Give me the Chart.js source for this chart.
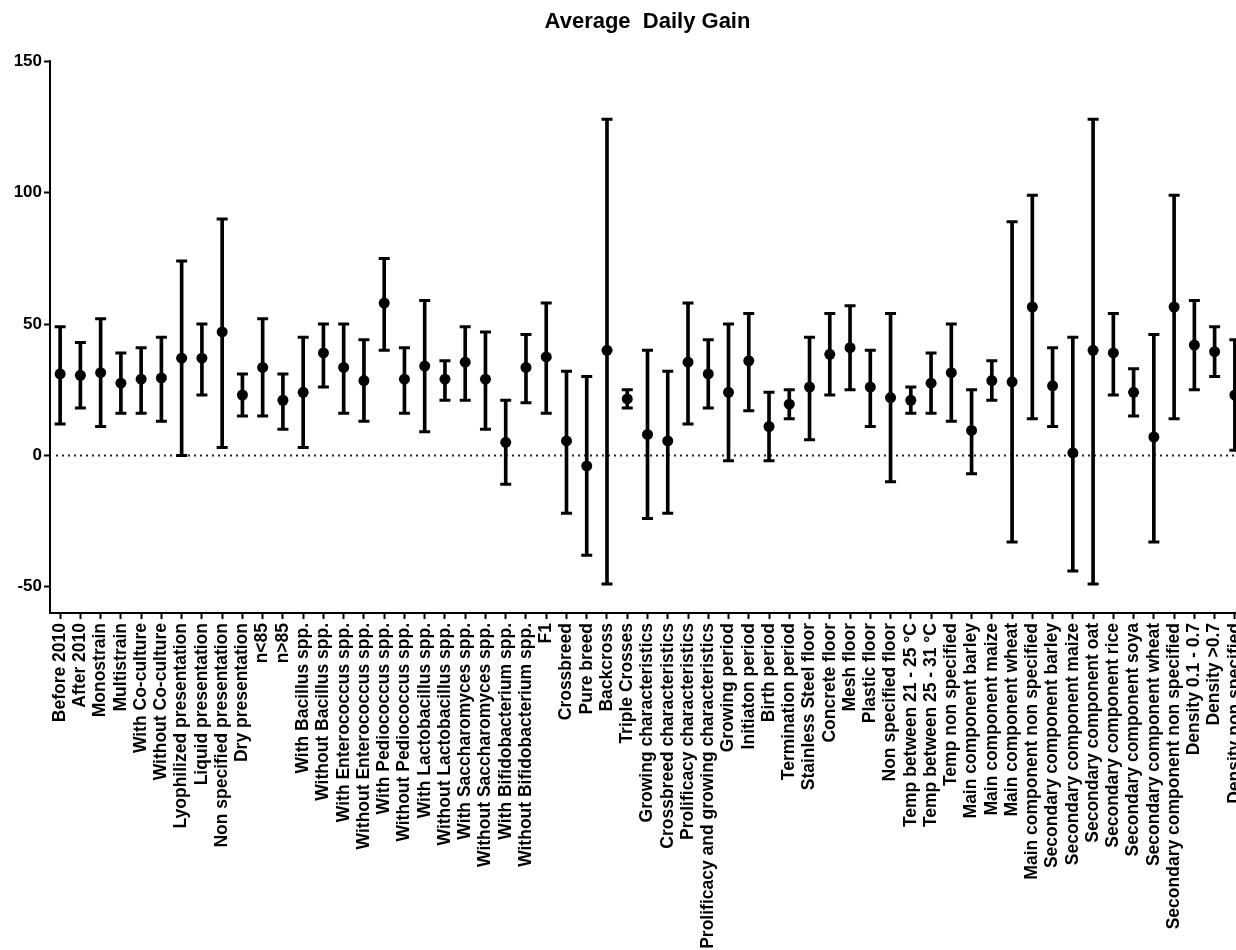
<!DOCTYPE html>
<html>
<head>
<meta charset="utf-8">
<script src="https://cdn.jsdelivr.net/npm/chart.js@4.4.0/dist/chart.umd.min.js"></script>
<style>
  html, body { margin: 0; padding: 0; background: #fff; overflow: hidden; }
  #wrap { width: 1236px; height: 950px; overflow: hidden; }
</style>
</head>
<body>
<div id="wrap"><canvas id="adg" width="1260" height="950"></canvas></div>
<script>
// Average Daily Gain – gemiddelde met betrouwbaarheidsinterval per subgroep

const categories = [
  "Before 2010", "After 2010", "Monostrain", "Multistrain", "With Co-culture",
  "Without Co-culture", "Lyophilized presentation", "Liquid presentation",
  "Non specified presentation", "Dry presentation", "n<85", "n>85",
  "With Bacillus spp.", "Without Bacillus spp.", "With Enterococcus spp.",
  "Without Enterococcus spp.", "With Pediococcus spp.", "Without Pediococcus spp.",
  "With Lactobacillus spp.", "Without Lactobacillus spp.", "With Saccharomyces spp.",
  "Without Saccharomyces spp.", "With Bifidobacterium spp.", "Without Bifidobacterium spp.",
  "F1", "Crossbreed", "Pure breed", "Backcross", "Triple Crosses",
  "Growing characteristics", "Crossbreed characteristics", "Prolificacy characteristics",
  "Prolificacy and growing characteristics", "Growing period", "Initiaton period",
  "Birth period", "Termination period", "Stainless Steel floor", "Concrete floor",
  "Mesh floor", "Plastic floor", "Non specified floor", "Temp between 21 - 25 °C",
  "Temp between 25 - 31 °C", "Temp non specified", "Main component barley",
  "Main component maize", "Main component wheat", "Main component non specified",
  "Secondary component barley", "Secondary component maize", "Secondary component oat",
  "Secondary component rice", "Secondary component soya", "Secondary component wheat",
  "Secondary component non specified", "Density 0.1 - 0.7", "Density >0.7",
  "Density non specified"
];

const means = [
  31, 30.5, 31.5, 27.5, 29, 29.5, 37, 37, 47, 23, 33.5, 21,
  24, 39, 33.5, 28.5, 58, 29, 34, 29, 35.5, 29, 5, 33.5,
  37.5, 5.5, -4, 40, 21.5, 8, 5.5, 35.5, 31, 24, 36, 11, 19.5,
  26, 38.5, 41, 26, 22, 21, 27.5, 31.5, 9.5, 28.5, 28, 56.5,
  26.5, 1, 40, 39, 24, 7, 56.5, 42, 39.5, 23
];

const lows = [
  12, 18, 11, 16, 16, 13, 0, 23, 3, 15, 15, 10,
  3, 26, 16, 13, 40, 16, 9, 21, 21, 10, -11, 20,
  16, -22, -38, -49, 18, -24, -22, 12, 18, -2, 17, -2, 14,
  6, 23, 25, 11, -10, 16, 16, 13, -7, 21, -33, 14,
  11, -44, -49, 23, 15, -33, 14, 25, 30, 2
];

const highs = [
  49, 43, 52, 39, 41, 45, 74, 50, 90, 31, 52, 31,
  45, 50, 50, 44, 75, 41, 59, 36, 49, 47, 21, 46,
  58, 32, 30, 128, 25, 40, 32, 58, 44, 50, 54, 24, 25,
  45, 54, 57, 40, 54, 26, 39, 50, 25, 36, 89, 99,
  41, 45, 128, 54, 33, 46, 99, 59, 49, 44
];

const yTicks = [-50, 0, 50, 100, 150];

const fontFam = "'Liberation Sans', Arial, Helvetica, sans-serif";

// gestippelde nullijn
const zeroLine = {
  id: "zeroLine",
  beforeDatasetsDraw(chart) {
    const { ctx, chartArea, scales } = chart;
    const y = scales.y.getPixelForValue(0);
    ctx.save();
    ctx.strokeStyle = "#222";
    ctx.lineWidth = 2;
    ctx.setLineDash([2, 4]);
    ctx.beginPath();
    ctx.moveTo(chartArea.left + 6, y);
    ctx.lineTo(chartArea.right, y);
    ctx.stroke();
    ctx.restore();
  }
};

const ctx = document.getElementById("adg").getContext("2d");

new Chart(ctx, {
  data: {
    labels: categories,
    datasets: [
      {
        type: "line",
        label: "Mean",
        data: means,
        showLine: false,
        pointRadius: 5.5,
        pointBackgroundColor: "#000",
        pointBorderColor: "#000",
        pointBorderWidth: 0
      },
      {
        type: "line",
        label: "Upper",
        data: highs,
        showLine: false,
        pointStyle: "line",
        pointRadius: 5.5,
        pointBorderWidth: 3,
        pointBorderColor: "#000"
      },
      {
        type: "line",
        label: "Lower",
        data: lows,
        showLine: false,
        pointStyle: "line",
        pointRadius: 5.5,
        pointBorderWidth: 3,
        pointBorderColor: "#000"
      },
      {
        type: "bar",
        label: "CI",
        data: lows.map((lo, i) => [lo, highs[i]]),
        backgroundColor: "#000",
        barThickness: 3,
        borderSkipped: false
      }
    ]
  },
  options: {
    responsive: false,
    animation: false,
    layout: { padding: { left: 0, right: 12, top: 0, bottom: 0 } },
    plugins: {
      legend: { display: false },
      tooltip: { enabled: false },
      title: {
        display: true,
        fullSize: false,
        text: "Average  Daily Gain",
        color: "#000",
        font: { family: fontFam, size: 22, weight: "bold" },
        padding: { top: 9, bottom: 26 }
      }
    },
    scales: {
      x: {
        type: "category",
        offset: true,
        grid: {
          offset: false,
          drawOnChartArea: false,
          drawTicks: true,
          tickLength: 6,
          tickWidth: 2,
          tickColor: "#000"
        },
        border: { color: "#000", width: 2 },
        ticks: {
          autoSkip: false,
          minRotation: 90,
          maxRotation: 90,
          padding: 4,
          color: "#000",
          font: { family: fontFam, size: 17.5, weight: "bold" }
        },
        afterFit(scale) { scale.height = 337; }
      },
      y: {
        min: -60,
        max: 150,
        afterBuildTicks(scale) {
          scale.ticks = yTicks.map(v => ({ value: v }));
        },
        grid: {
          drawOnChartArea: false,
          drawTicks: true,
          tickLength: 6,
          tickWidth: 2,
          tickColor: "#000"
        },
        border: { color: "#000", width: 2 },
        ticks: {
          padding: 2,
          color: "#000",
          font: { family: fontFam, size: 17, weight: "bold" }
        },
        afterFit(scale) { scale.width = 50; }
      }
    }
  },
  plugins: [zeroLine]
});
</script>
</body>
</html>
